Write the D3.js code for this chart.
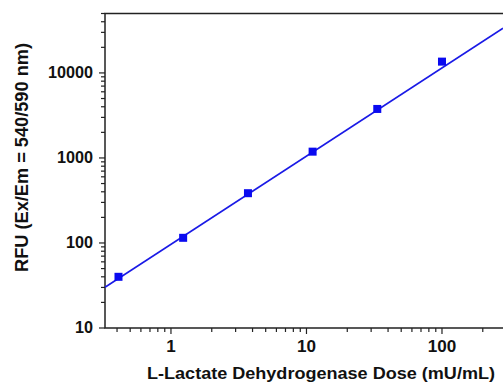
<!DOCTYPE html>
<html><head><meta charset="utf-8">
<script src="https://cdn.jsdelivr.net/npm/d3@7"></script>
<style>body{margin:0;background:#fff}svg{display:block}text{font-family:"Liberation Sans",Arial,sans-serif;font-weight:bold;fill:#111}</style>
</head><body>
<script>
const doses = [0.41, 1.23, 3.7, 11.1, 33.3, 100];
const rfu = [40, 115, 385, 1186, 3770, 13580];
const fitIntercept = 96.4; // RFU at dose 1
const fitSlope = 1.037;    // log-log slope
const xTicks = [1, 10, 100];
const yTicks = [10, 100, 1000, 10000];
const xTitle = "L-Lactate Dehydrogenase Dose (mU/mL)";
const yTitle = "RFU (Ex/Em = 540/590 nm)";

const W = 503, H = 382;
const mLeft = 105, mTop = 13.5, mBottom = 328, mRight = 503;
const svg = d3.select("body").append("svg").attr("width", W).attr("height", H);

const x = d3.scaleLog().domain([0.326, 282]).range([mLeft, mRight]);
const y = d3.scaleLog().domain([10, 50000]).range([mBottom, mTop]);

function minorTicks(lo, hi) {
  const out = [];
  for (let d = Math.pow(10, Math.floor(Math.log10(lo))); d <= hi; d *= 10)
    for (let k = 1; k <= 9; k++) { const v = d * k; if (v >= lo && v <= hi) out.push(v); }
  return out;
}

// y axis
const yMinor = minorTicks(10, 50000);
svg.append("g").selectAll("line").data(yMinor).join("line")
  .attr("x1", mLeft).attr("x2", d => yTicks.includes(d) ? mLeft - 6 : mLeft - 4)
  .attr("y1", d => y(d)).attr("y2", d => y(d))
  .attr("stroke", "#222").attr("stroke-width", 1.2);
svg.append("g").selectAll("text").data(yTicks).join("text")
  .attr("x", mLeft - 12).attr("y", d => y(d) + 5).attr("text-anchor", "end")
  .attr("font-size", 16).attr("textLength", d => String(d).length * 9)
  .attr("lengthAdjust", "spacingAndGlyphs").text(d => d);

// x axis
const xMinor = minorTicks(0.326, 282);
svg.append("g").selectAll("line").data(xMinor).join("line")
  .attr("y1", mBottom).attr("y2", d => xTicks.includes(d) ? mBottom + 6 : mBottom + 4)
  .attr("x1", d => x(d)).attr("x2", d => x(d))
  .attr("stroke", "#222").attr("stroke-width", 1.2);
svg.append("g").selectAll("text").data(xTicks).join("text")
  .attr("x", d => x(d)).attr("y", 352).attr("text-anchor", "middle")
  .attr("font-size", 16).attr("textLength", d => String(d).length * 9.5)
  .attr("lengthAdjust", "spacingAndGlyphs").text(d => d);

// axis lines
svg.append("path").attr("d", `M${mRight},${mTop}H${mLeft}V${mBottom}H${mRight}`)
  .attr("fill", "none").attr("stroke", "#222").attr("stroke-width", 1.5);

// fit line
const fit = d => fitIntercept * Math.pow(d, fitSlope);
const xs = x.domain();
svg.append("line")
  .attr("x1", x(xs[0])).attr("y1", y(fit(xs[0])))
  .attr("x2", x(xs[1])).attr("y2", y(fit(xs[1])))
  .attr("stroke", "#1a1ae6").attr("stroke-width", 1.6);

// points
svg.append("g").selectAll("rect").data(doses).join("rect")
  .attr("x", (d) => x(d) - 4).attr("y", (d, i) => y(rfu[i]) - 4)
  .attr("width", 8).attr("height", 8).attr("fill", "#0a0af0");

// titles
svg.append("text").attr("x", 321).attr("y", 379).attr("text-anchor", "middle")
  .attr("font-size", 16).attr("textLength", 348).attr("lengthAdjust", "spacingAndGlyphs")
  .text(xTitle);
svg.append("text").attr("transform", "translate(28,157.5) rotate(-90)")
  .attr("text-anchor", "middle").attr("font-size", 18)
  .attr("textLength", 229).attr("lengthAdjust", "spacingAndGlyphs").text(yTitle);
</script>
</body></html>
